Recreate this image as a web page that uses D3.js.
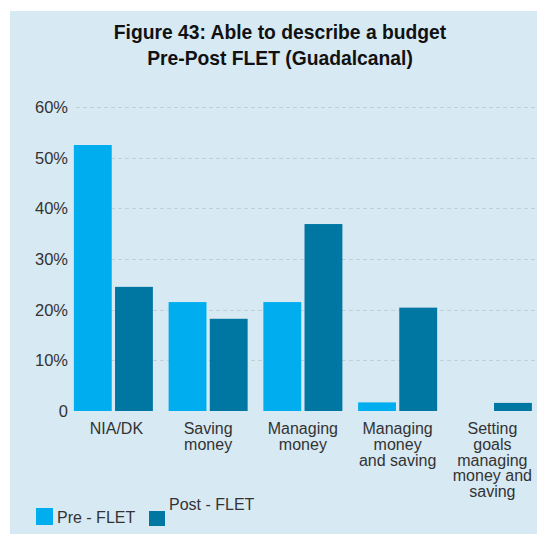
<!DOCTYPE html>
<html><head><meta charset="utf-8">
<script src="https://cdn.jsdelivr.net/npm/d3@7"></script>
<style>body{margin:0;background:#fff}svg{display:block}</style>
</head><body>
<script>
const categories = [["NIA/DK"],["Saving","money"],["Managing","money"],["Managing","money","and saving"],["Setting","goals","managing","money and","saving"]];
const series = ["Pre - FLET","Post - FLET"];
const preValues = [52.5, 21.5, 21.5, 1.7, 0];
const postValues = [24.5, 18.2, 36.9, 20.4, 1.6];
const yTicks = [0,10,20,30,40,50,60];
const colors = ["#00aeef","#0077a3"];

const W=537,H=535;
const svg=d3.select("body").append("svg").attr("width",W).attr("height",H);
svg.append("rect").attr("x",10).attr("y",11).attr("width",W-10).attr("height",H-11-1).attr("fill","#d7e9f3");

const font="'Liberation Sans', Arial, sans-serif";
const title=svg.append("text").attr("text-anchor","middle").attr("font-family",font).attr("font-weight","bold").attr("font-size",19.3).attr("fill","#111");
title.append("tspan").attr("x",280).attr("y",39).text("Figure 43: Able to describe a budget");
title.append("tspan").attr("x",280).attr("y",65).text("Pre-Post FLET (Guadalcanal)");

const y=d3.scaleLinear().domain([0,60]).range([411,107]);
const keys=categories.map((c,i)=>i);
const x0=d3.scaleBand().domain(keys).range([66,539.75]).paddingInner(0.166).paddingOuter(0.083);
const x1=d3.scaleBand().domain([0,1]).range([0,x0.bandwidth()]).paddingInner(0.08);

// grid
svg.append("g").selectAll("line").data(yTicks.filter(t=>t>0)).join("line")
  .attr("x1",76).attr("x2",W).attr("y1",d=>Math.round(y(d))+0.5).attr("y2",d=>Math.round(y(d))+0.5)
  .attr("stroke","#c3ced5").attr("stroke-width",1.2).attr("stroke-dasharray","4,3");

// y labels
svg.append("g").selectAll("text").data(yTicks).join("text")
  .attr("x",68).attr("y",d=>y(d)+6).attr("text-anchor","end")
  .attr("font-family",font).attr("font-size",16.5).attr("fill","#333")
  .text(d=>d===0?"0":d+"%");

// bars
const vals=[preValues,postValues];
const g=svg.append("g");
keys.forEach(i=>{
  [0,1].forEach(s=>{
    const v=vals[s][i];
    if(v<=0) return;
    g.append("rect").attr("x",x0(i)+x1(s)).attr("y",y(v)).attr("width",x1.bandwidth()).attr("height",y(0)-y(v)).attr("fill",colors[s]);
  });
});

// category labels
const cl=svg.append("g").attr("font-family",font).attr("font-size",16).attr("fill","#333").attr("text-anchor","middle");
categories.forEach((lines,i)=>{
  const t=cl.append("text");
  lines.forEach((ln,j)=>t.append("tspan").attr("x",x0(i)+x0.bandwidth()/2+(i===0?3:0)).attr("y",434+j*15.8).text(ln));
});

// legend
const lg=svg.append("g").attr("font-family",font).attr("font-size",16).attr("fill","#333");
lg.append("rect").attr("x",36).attr("y",508).attr("width",17).attr("height",17).attr("fill",colors[0]);
lg.append("text").attr("x",57).attr("y",523).text(series[0]);
lg.append("rect").attr("x",149).attr("y",511).attr("width",16).attr("height",15).attr("fill",colors[1]);
lg.append("text").attr("x",169).attr("y",510).text(series[1]);
</script>
</body></html>
